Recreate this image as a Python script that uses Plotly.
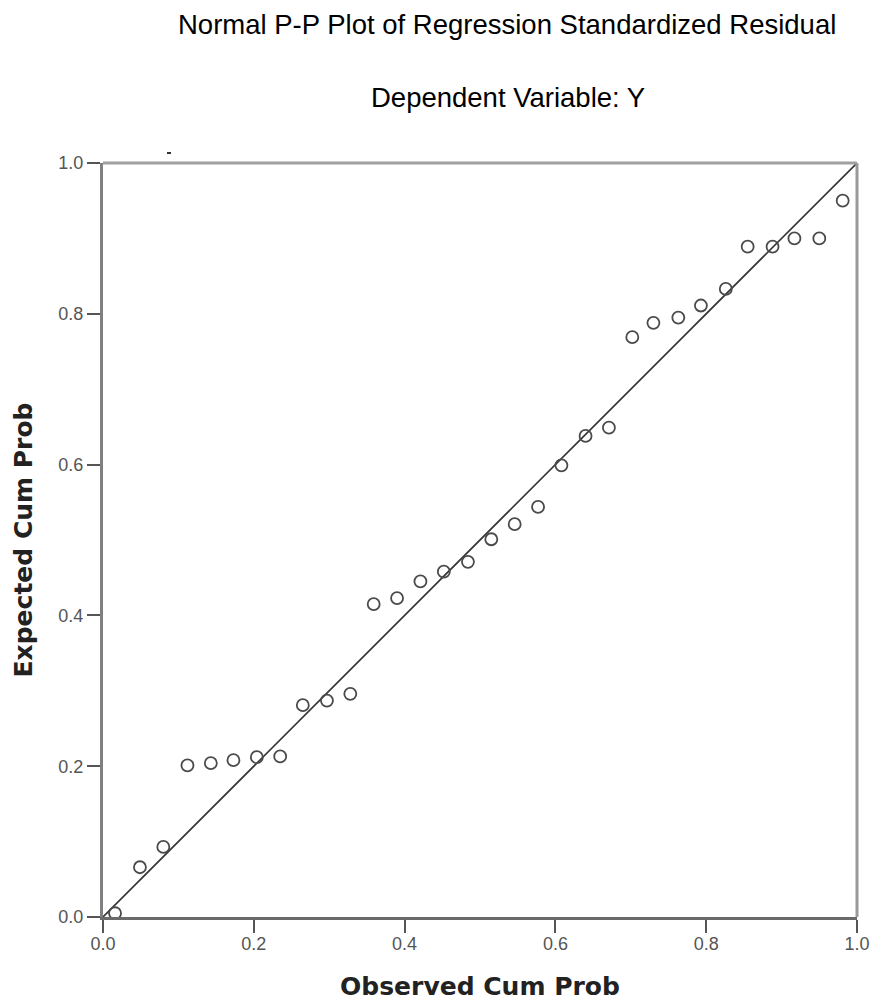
import plotly.graph_objects as go

observed_cum_prob = [0.016, 0.049, 0.080, 0.112, 0.143, 0.173, 0.204, 0.235,
                     0.265, 0.297, 0.328, 0.359, 0.390, 0.421, 0.452, 0.484,
                     0.515, 0.546, 0.577, 0.608, 0.640, 0.671, 0.702, 0.730,
                     0.763, 0.793, 0.826, 0.855, 0.888, 0.917, 0.950, 0.981]
expected_cum_prob = [0.005, 0.066, 0.093, 0.201, 0.204, 0.208, 0.212, 0.213,
                     0.281, 0.287, 0.296, 0.415, 0.423, 0.445, 0.458, 0.471,
                     0.501, 0.521, 0.544, 0.599, 0.638, 0.649, 0.769, 0.788,
                     0.795, 0.811, 0.833, 0.889, 0.889, 0.900, 0.900, 0.950]
ref_line_x = [0.0, 1.0]
ref_line_y = [0.0, 1.0]
tick_vals = [0.0, 0.2, 0.4, 0.6, 0.8, 1.0]
tick_text = ["0.0", "0.2", "0.4", "0.6", "0.8", "1.0"]

title_text = "Normal P-P Plot of Regression Standardized Residual"
subtitle_text = "Dependent Variable: Y"
x_title = "Observed Cum Prob"
y_title = "Expected Cum Prob"

W, H = 875, 1005
L, R, T, B = 103, 18, 163, 88
title_font = "Liberation Sans Narrow, Arial Narrow, Liberation Sans, Arial, sans-serif"

fig = go.Figure()
fig.add_trace(go.Scatter(x=ref_line_x, y=ref_line_y, mode="lines",
                         line=dict(color="#333333", width=1.6),
                         hoverinfo="skip", showlegend=False))
fig.add_trace(go.Scatter(x=observed_cum_prob, y=expected_cum_prob, mode="markers",
                         marker=dict(symbol="circle-open", size=12,
                                     color="#4a4a4a", line=dict(width=1.8)),
                         showlegend=False))

axis_common = dict(range=[0, 1], tickvals=tick_vals, ticktext=tick_text,
                   showgrid=False, zeroline=False, ticks="outside", ticklen=13,
                   tickwidth=2, tickcolor="#555555",
                   tickfont=dict(family="Liberation Sans, Arial, sans-serif",
                                 size=18, color="#555555"))

fig.update_layout(
    width=W, height=H,
    margin=dict(l=L, r=R, t=T, b=B, autoexpand=False),
    paper_bgcolor="white", plot_bgcolor="white",
    xaxis=dict(**axis_common, showline=True, linecolor="#6a6a6a", linewidth=3,
               ticklabelstandoff=-5,
               title=dict(text=x_title, standoff=25,
                          font=dict(family="DejaVu Sans, sans-serif", size=25,
                                    color="#222222", weight="bold"))),
    yaxis=dict(**axis_common, showline=True, linecolor="#808080", linewidth=3,
               title=dict(text=y_title, standoff=19,
                          font=dict(family="DejaVu Sans, sans-serif", size=25,
                                    color="#222222", weight="bold"))),
    shapes=[
        dict(type="line", xref="paper", yref="paper", x0=0, x1=1, y0=1, y1=1,
             line=dict(color="#a0a0a0", width=3)),
        dict(type="line", xref="paper", yref="paper", x0=1, x1=1, y0=0, y1=1,
             line=dict(color="#9a9a9a", width=3)),
        dict(type="line", xref="paper", yref="paper",
             x0=(167 - L) / 754, x1=(171 - L) / 754,
             y0=(917 - 153) / 754, y1=(917 - 153) / 754,
             line=dict(color="#333333", width=2)),
    ],
    annotations=[
        dict(text=title_text, xref="paper", yref="paper",
             x=(507 - L) / 754, y=(917 - 25) / 754, xanchor="center", yanchor="middle",
             showarrow=False, font=dict(family=title_font, size=27.5, color="#000000")),
        dict(text=subtitle_text, xref="paper", yref="paper",
             x=(508 - L) / 754, y=(917 - 97) / 754, xanchor="center", yanchor="middle",
             showarrow=False, font=dict(family=title_font, size=27.5, color="#000000")),
    ],
)

fig.write_html("out.html", config={"displayModeBar": False},
               post_script="document.body.style.margin='0';")
